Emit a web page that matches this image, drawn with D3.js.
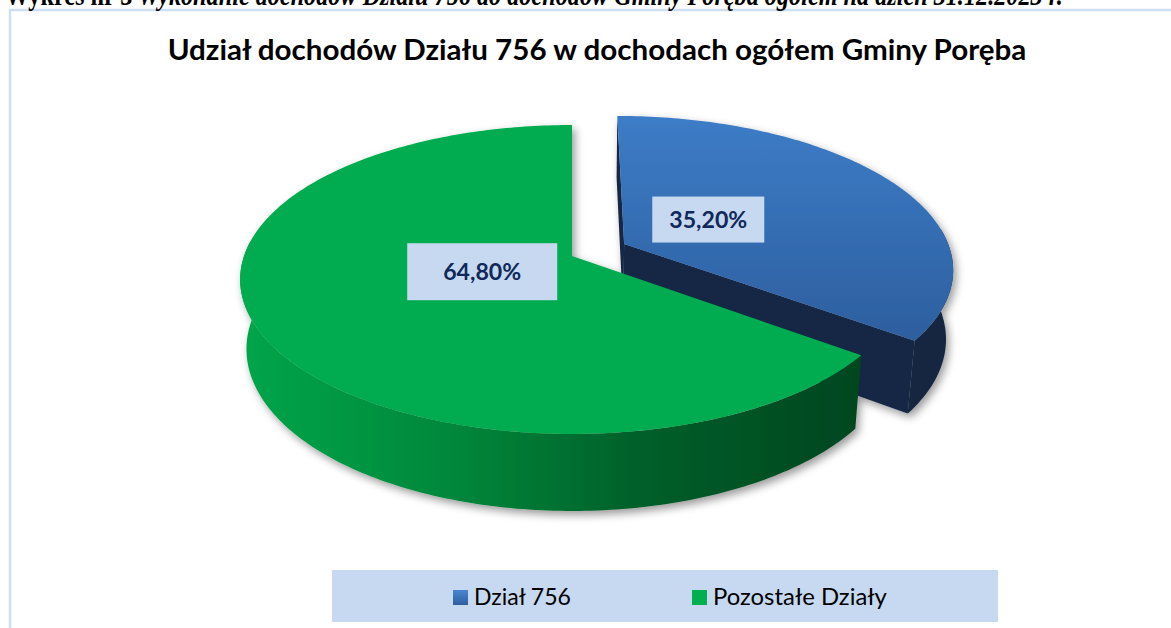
<!DOCTYPE html>
<html><head><meta charset="utf-8">
<script src="https://cdn.jsdelivr.net/npm/d3@7"></script>
<style>html,body{margin:0;padding:0;background:#fff;overflow:hidden}</style>
</head><body>
<svg id="c" width="1171" height="628"></svg>
<script>
// ---- data ----
const headerBold = "Wykres nr 3";
const headerItalic = " Wykonanie dochodów Działu 756 do dochodów Gminy Poręba ogółem na dzień 31.12.2023 r.";
const title = "Udział dochodów Działu 756 w dochodach ogółem Gminy Poręba";
const categories = ["Dział 756", "Pozostałe Działy"];
const values = [35.2, 64.8];
const valueLabels = ["35,20%", "64,80%"];

// ---- layout / style ----
const W = 1171, H = 628;
const svg = d3.select("#c");
const defs = svg.append("defs");
const explode = [0.18, 0];
const labelBoxW = [112, 150], labelBoxH = [46, 57], labelDy = -5;
const cx = 572, cy = 256, R = 328, D = 1915, F = 1915, sphi = 0.46, cphi = 0.888, depth = 79;

function project(X, Y, Z) {
  const d = D + Z * cphi - Y * sphi;
  const v = Z * sphi + Y * cphi;
  return [cx + F * X / d, cy - F * v / d];
}

// gradients
function lin(id, x1, y1, x2, y2, stops) {
  const g = defs.append("linearGradient").attr("id", id).attr("gradientUnits", "userSpaceOnUse")
    .attr("x1", x1).attr("y1", y1).attr("x2", x2).attr("y2", y2);
  stops.forEach(s => g.append("stop").attr("offset", s[0]).attr("stop-color", s[1]));
}
lin("blueTop", 0, 110, 0, 340, [[0, "#3d7dc8"], [1, "#2d5f9f"]]);
lin("blueSide", 620, 0, 960, 0, [[0, "#152a48"], [1, "#12263f"]]);
lin("greenSide", 237, 0, 860, 0, [[0, "#00a64a"], [0.35, "#00873b"], [0.65, "#005f29"], [1, "#00461f"]]);
lin("legBlue", 0, 590, 0, 605, [[0, "#4a86cf"], [1, "#2d5f9f"]]);
const f = defs.append("filter").attr("id", "sh").attr("x", "-10%").attr("y", "-10%").attr("width", "120%").attr("height", "130%");
f.append("feDropShadow").attr("dx", 3).attr("dy", 4).attr("stdDeviation", 4).attr("flood-color", "#000").attr("flood-opacity", 0.4);

const topFill = ["url(#blueTop)", "#00ac4f"];
const sideFill = ["url(#blueSide)", "url(#greenSide)"];
const wallFill = ["#142845", "#00461f"];

// border
svg.append("rect").attr("x", 10).attr("y", 10).attr("width", 1300).attr("height", 800)
  .attr("fill", "none").attr("stroke", "#cfdff2").attr("stroke-width", 2.5);

// header (mostly cut off at top, as in the reference)
const hdr = svg.append("text").attr("font-family", "Liberation Serif").attr("font-weight", "bold").attr("font-size", 20);
hdr.append("tspan").text(headerBold);
hdr.append("tspan").attr("font-style", "italic").text(headerItalic);
{
  const len = hdr.node().getComputedTextLength();
  const fs = 20 * 1058 / len;
  hdr.attr("font-size", fs).attr("transform", `translate(5,5) scale(1,1.25)`);
}

function fitText(sel, targetW, cap, capRatio) {
  sel.attr("font-size", 100);
  const len = sel.node().getComputedTextLength();
  const fs = 100 * targetW / len;
  sel.attr("font-size", fs);
  return cap / (fs * capRatio);
}

// title
const tt = svg.append("text").attr("font-family", "Lato").attr("font-weight", "bold").attr("fill", "#000")
  .attr("text-anchor", "middle").text(title);
{
  const sy = fitText(tt, 859, 20, 0.7165);
  tt.attr("transform", `translate(597,60) scale(1,${sy})`);
}

// ---- pie ----
const arcs = d3.pie().sort(null).value(d => d)(values);
const line = d3.line();
const pieG = svg.append("g").attr("filter", "url(#sh)");

function sliceGeom(a, i) {
  const mid = (a.startAngle + a.endAngle) / 2;
  const ox = explode[i] * R * Math.sin(mid), oz = explode[i] * R * Math.cos(mid);
  const rim = (t, Y) => project(ox + R * Math.sin(t), Y, oz + R * Math.cos(t));
  const pts = (a0, a1, Y) => { const n = Math.max(2, Math.ceil((a1 - a0) * 60)); return d3.range(n + 1).map(k => rim(a0 + (a1 - a0) * k / n, Y)); };
  return { mid, ox, oz, rim, pts };
}

// draw far slice first (blue exploded to the back)
const order = arcs.map((a, i) => i).sort((p, q) => {
  const gp = sliceGeom(arcs[p], p), gq = sliceGeom(arcs[q], q);
  return Math.cos(gq.mid) - Math.cos(gp.mid);
});

order.forEach(i => {
  const a = arcs[i];
  const g = sliceGeom(a, i);
  const sg = pieG.append("g");
  const ctrTop = project(g.ox, 0, g.oz), ctrBot = project(g.ox, -depth, g.oz);
  // radial walls
  [[a.startAngle, -1], [a.endAngle, 1]].forEach(([t, sgn]) => {
    const nt = t + sgn * Math.PI / 2;
    const nX = Math.sin(nt), nZ = Math.cos(nt);
    const dot = nX * (-g.ox) + nZ * (-D * cphi - g.oz);
    if (dot > 0.5) {
      const poly = [ctrTop, g.rim(t, 0), g.rim(t, -depth), ctrBot];
      sg.append("path").attr("d", line(poly) + "Z").attr("fill", wallFill[i]);
    }
  });
  // outer side
  const s0 = Math.max(a.startAngle, Math.PI / 2 - 0.1), s1 = Math.min(a.endAngle, 3 * Math.PI / 2 + 0.1);
  if (s1 > s0) {
    const top = g.pts(s0, s1, 0), bot = g.pts(s0, s1, -depth).reverse();
    sg.append("path").attr("d", line(top.concat(bot)) + "Z").attr("fill", sideFill[i]);
  }
  // top face
  const face = [ctrTop].concat(g.pts(a.startAngle, a.endAngle, 0));
  sg.append("path").attr("d", line(face) + "Z").attr("fill", topFill[i]);
});

// value labels
arcs.forEach((a, i) => {
  const g = sliceGeom(a, i);
  const p = project(g.ox + 0.3 * R * Math.sin(g.mid), 0, g.oz + 0.3 * R * Math.cos(g.mid));
  p[1] += labelDy;
  svg.append("rect").attr("x", p[0] - labelBoxW[i] / 2).attr("y", p[1] - labelBoxH[i] / 2)
    .attr("width", labelBoxW[i]).attr("height", labelBoxH[i]).attr("fill", "#c6d9f1");
  const t = svg.append("text").attr("font-family", "Lato").attr("font-weight", "bold").attr("fill", "#10285a")
    .attr("text-anchor", "middle").text(valueLabels[i]);
  const sy = fitText(t, 78, 16, 0.7165);
  t.attr("transform", `translate(${p[0]},${p[1] + 8}) scale(1,${sy})`);
});

// legend
svg.append("rect").attr("x", 332).attr("y", 570).attr("width", 666).attr("height", 52).attr("fill", "#c6d9f1");
const legX = [453, 692], legW = [97, 174];
const legFill = ["url(#legBlue)", "#00b050"];
categories.forEach((c, i) => {
  svg.append("rect").attr("x", legX[i]).attr("y", 590).attr("width", 15).attr("height", 15).attr("fill", legFill[i]);
  const t = svg.append("text").attr("font-family", "Lato").attr("fill", "#000").text(c);
  const sy = fitText(t, legW[i], 17, 0.7165);
  t.attr("transform", `translate(${legX[i] + 21},605) scale(1,${sy})`);
});
</script>
</body></html>
